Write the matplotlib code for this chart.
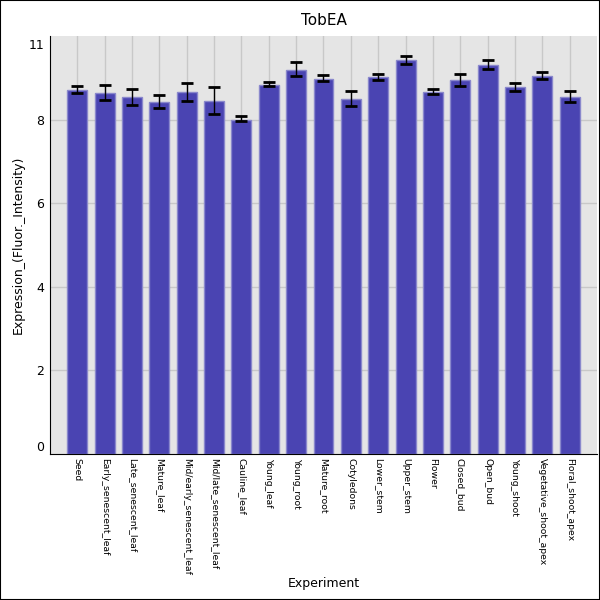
import matplotlib
matplotlib.use("Agg")
import matplotlib.pyplot as plt
import numpy as np
from matplotlib.patches import Rectangle

categories = ["Seed", "Early_senescent_leaf", "Late_senescent_leaf", "Mature_leaf",
              "Mid/early_senescent_leaf", "Mid/late_senescent_leaf", "Cauline_leaf",
              "Young_leaf", "Young_root", "Mature_root", "Cotyledons", "Lower_stem",
              "Upper_stem", "Flower", "Closed_bud", "Open_bud", "Young_shoot",
              "Vegetative_shoot_apex", "Floral_shoot_apex"]
values = [8.70, 8.63, 8.53, 8.42, 8.65, 8.44, 8.00, 8.82, 9.18, 8.96, 8.49, 9.01,
          9.42, 8.65, 8.94, 9.30, 8.77, 9.04, 8.53]
err_upper = [8.81, 8.83, 8.73, 8.58, 8.88, 8.77, 8.08, 8.89, 9.37, 9.06, 8.69, 9.08,
             9.53, 8.73, 9.08, 9.43, 8.87, 9.13, 8.69]
err_lower = [8.64, 8.46, 8.36, 8.27, 8.45, 8.13, 7.97, 8.80, 9.04, 8.92, 8.32, 8.95,
             9.32, 8.62, 8.81, 9.20, 8.69, 8.96, 8.43]
ytick_vals = [0, 2, 4, 6, 8, 9.8]
ytick_labels = ["0", "2", "4", "6", "8", "11"]
grid_vals = [2, 4, 6, 8]

fig = plt.figure(figsize=(6, 6), dpi=100)
fig.patches.append(Rectangle((0, 0), 1, 1, transform=fig.transFigure, fill=False,
                             edgecolor="black", linewidth=1.5, zorder=10))
ax = fig.add_axes([0.0833, 0.2433, 0.9117, 0.6967])
ax.set_facecolor("#e5e5e5")

x = np.arange(len(categories))
for g in grid_vals:
    ax.axhline(g, color="#c8c8c8", linewidth=1, zorder=0)
for xi in x:
    ax.axvline(xi, color="#c8c8c8", linewidth=1, zorder=0)

ax.bar(x, values, width=0.73, color="#4a44b2", edgecolor="#8a88cc", linewidth=1, zorder=2)
v = np.array(values)
yerr = np.vstack([v - np.array(err_lower), np.array(err_upper) - v])
ax.errorbar(x, v, yerr=yerr, fmt="none", ecolor="black", elinewidth=1,
            capsize=4, capthick=2, zorder=3)

ax.set_xlim(-1, 19)
ax.set_ylim(0, 10)
ax.set_yticks(ytick_vals)
ax.set_yticklabels(ytick_labels, fontsize=9)
ax.yaxis.get_majorticklabels()[0].set_verticalalignment("bottom")
ax.set_xticks(x)
ax.set_xticklabels(categories, rotation=-90, fontsize=6.7, va="top", ha="center")
ax.tick_params(axis="both", length=0, pad=3)
ax.tick_params(axis="y", pad=4)

for s in ["top", "right"]:
    ax.spines[s].set_visible(False)
ax.spines["left"].set_color("black")
ax.spines["bottom"].set_color("black")

ax.set_title("TobEA", fontsize=11, pad=8)
ax.set_ylabel("Expression_(Fluor._Intensity)", fontsize=9)
ax.yaxis.set_label_coords(-0.046, 0.5)
ax.set_xlabel("Experiment", fontsize=9)
ax.xaxis.set_label_coords(0.5, -0.295)

fig.savefig("out.png", dpi=100)
